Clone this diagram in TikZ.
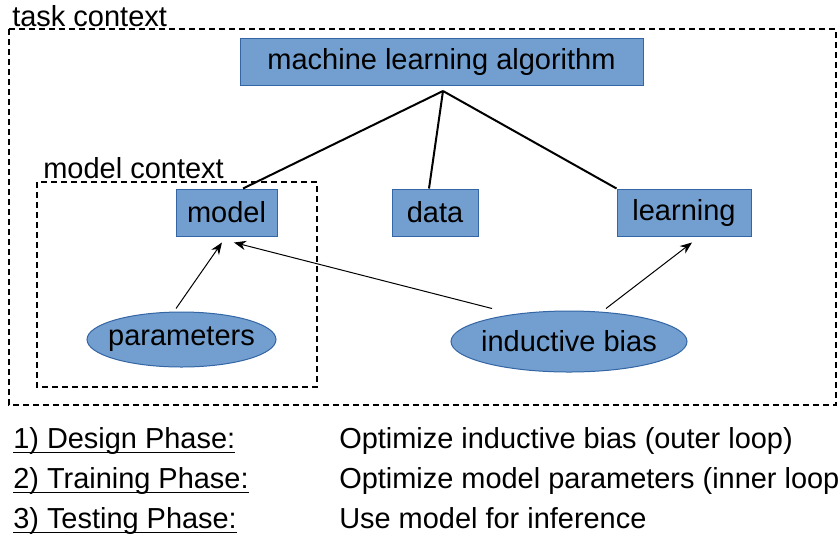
\documentclass[tikz,border=0pt]{standalone}
\usepackage{fontspec}
\setmainfont{Liberation Sans}
\usepackage{xcolor}
\usepackage{tikz}
\usetikzlibrary{shapes.geometric}
\usetikzlibrary{arrows.meta}
\usetikzlibrary{positioning}

\definecolor{boxfill}{HTML}{729FCF}
\definecolor{boxline}{HTML}{3465A4}

\begin{document}
\begin{tikzpicture}[
  x=0.75pt, y=-0.75pt,
  every node/.style={inner sep=0pt, font=\fontsize{21.75}{26}\selectfont},
  block/.style={draw=boxline, fill=boxfill, line width=0.75pt, minimum height=35.25pt},
  blob/.style={ellipse, draw=boxline, fill=boxfill, line width=0.75pt},
  ctx/.style={line width=1.5pt, dash pattern=on 4.5pt off 3pt},
  link/.style={line width=1.5pt},
  arr/.style={line width=0.75pt, -{Stealth[length=9pt, width=7pt]}},
  phase/.style={anchor=base west, font=\fontsize{21.7}{26}\selectfont},
  uline/.style={line width=1.1pt}
]
\useasboundingbox (0,0) rectangle (838,547);

% contexts
\draw[ctx] (9,29) rectangle (836,405);
\draw[ctx] (37,182) rectangle (317,387);
\node[anchor=base west] (taskctx)  at (12,26)  {task context};
\node[anchor=base west] (modelctx) at (43,178) {model context};

% blocks
\node[block, minimum width=302.25pt] (mla)      at (441.5,61.5) {machine learning algorithm};
\node[block, minimum width=75.75pt]  (model)    at (226.5,212.5) {model};
\node[block, minimum width=64.5pt]   (data)     at (435,212.5)   {data};
\node[block, minimum width=100.5pt]  (learning) at (684,212.5)   {learning};

\node[blob, inner xsep=-5pt, minimum width=141.75pt, minimum height=41.25pt] (params) at (181.5,339.5) {parameters};
\node[blob, inner xsep=-3.4pt, minimum width=177pt, minimum height=45.75pt] (bias) at (569,341.5) {inductive bias};

\coordinate (hub) at (443,91);
\draw[link] (hub) -- ([xshift=12.4pt]model.north);
\draw[link] (hub) -- ([xshift=-4.5pt]data.north);
\draw[link] (hub) -- (learning.north west);

\draw[arr] ([xshift=-4.1pt, yshift=2.25pt]params.north) -- ([xshift=-3.4pt, yshift=-4.5pt]model.south);
\draw[arr] ([xshift=-57.75pt, yshift=1.5pt]bias.north) -- ([xshift=5.6pt, yshift=-4.5pt]model.south);
\draw[arr] ([xshift=27.75pt, yshift=1.5pt]bias.north) -- ([xshift=6pt, yshift=-4.5pt]learning.south);

% phases
\node[phase] (design)   at (13,448)  {1) Design Phase:};
\node[phase] (training) at (13,488)  {2) Training Phase:};
\node[phase] (testing)  at (13,528)  {3) Testing Phase:};
\foreach \p in {design,training,testing}
  \draw[uline] ([yshift=-3.2pt]\p.base west) -- ([yshift=-3.2pt]\p.base east);
\node[phase] (designtxt)   at (339,448) {Optimize inductive bias (outer loop)};
\node[phase] (trainingtxt) at (339,488) {Optimize model parameters (inner loop)};
\node[phase] (testingtxt)  at (339,528) {Use model for inference};
\end{tikzpicture}
\end{document}
